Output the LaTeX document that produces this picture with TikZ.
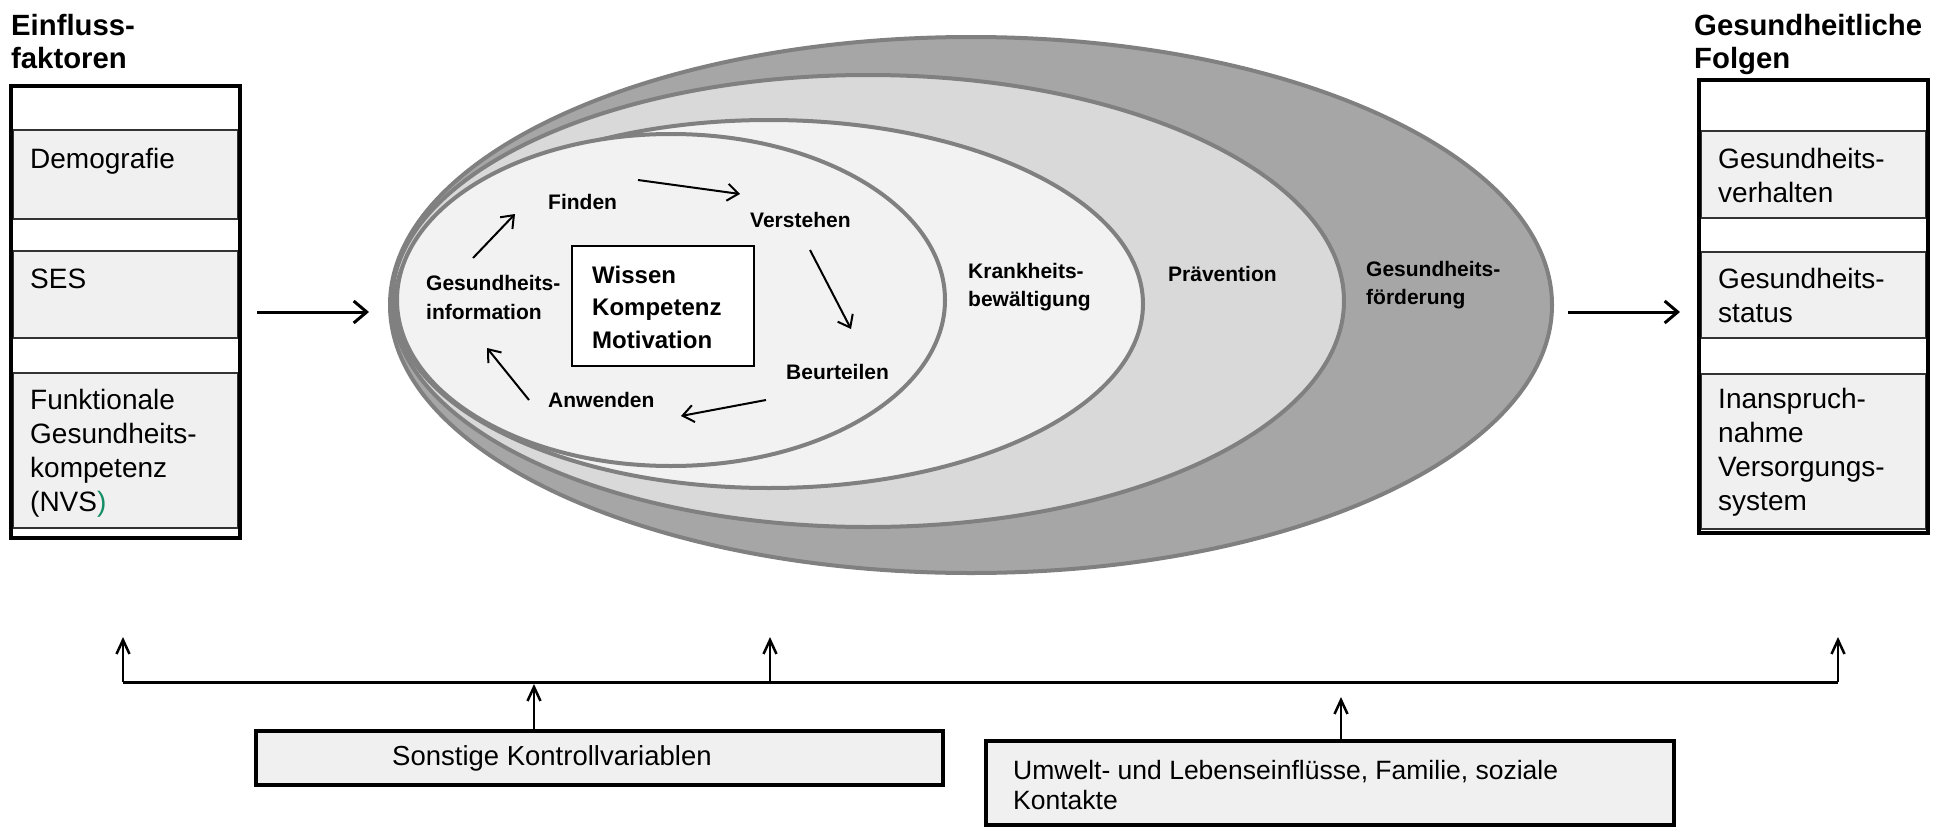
\documentclass[tikz,border=0pt]{standalone}
\usepackage{fontspec}
\setmainfont{Liberation Sans}
\usetikzlibrary{arrows.meta,shapes.geometric}
\definecolor{rowgrey}{HTML}{F0F0F0}
\definecolor{elline}{HTML}{808080}
\definecolor{elA}{HTML}{A6A6A6}
\definecolor{elB}{HTML}{D9D9D9}
\definecolor{elC}{HTML}{F2F2F2}
\definecolor{nvsgreen}{RGB}{20,140,100}
\begin{document}
\begin{tikzpicture}[x=1pt,y=-1pt,
  titletxt/.style={anchor=base west,inner sep=0pt,font=\fontsize{29.3}{34}\selectfont\bfseries},
  bodytxt/.style={anchor=base west,inner sep=0pt,font=\fontsize{28}{34}\selectfont},
  eltxt/.style={anchor=base west,inner sep=0pt,font=\fontsize{21}{28}\selectfont\bfseries},
  boxtxt/.style={anchor=base west,inner sep=0pt,font=\fontsize{24}{32}\selectfont\bfseries},
  bottxt/.style={anchor=base west,inner sep=0pt,font=\fontsize{26.5}{30}\selectfont},
  rowbox/.style={fill=rowgrey,draw=black!80,line width=1.5pt},
  framebox/.style={draw=black,line width=4pt},
  ellbox/.style={ellipse,draw=elline,line width=4pt,inner sep=0pt},
  bigarrow/.style={line width=3pt,-{Straight Barb[length=13pt,width=22pt,line width=3pt]}},
  cycarrow/.style={line width=2pt,-{Straight Barb[length=11pt,width=17pt,line width=2pt]}},
  uparrow/.style={line width=2.5pt,-{Straight Barb[length=14pt,width=13pt,line width=2.5pt]}}
]
\useasboundingbox (0,0) rectangle (1936,827);

% ---------- left column ----------
\node[titletxt] (tl1) at (11,35) {Einfluss-};
\node[titletxt] (tl2) at (11,68) {faktoren};
\fill[white] (11,86) rectangle (240,538);
\draw[rowbox] (13,130) rectangle (238,219);
\draw[rowbox] (13,251) rectangle (238,338);
\draw[rowbox] (13,373) rectangle (238,528);
\draw[framebox] (11,86) rectangle (240,538);
\node[bodytxt] (ld) at (30,168) {Demografie};
\node[bodytxt] (ls) at (30,288) {SES};
\node[bodytxt] (lf1) at (30,409) {Funktionale};
\node[bodytxt] (lf2) at (30,443) {Gesundheits-};
\node[bodytxt] (lf3) at (30,477) {kompetenz};
\node[bodytxt] (lf4) at (30,511) {(NVS\textcolor{nvsgreen}{)}};

% ---------- right column ----------
\node[titletxt] (tr1) at (1694,35) {Gesundheitliche};
\node[titletxt] (tr2) at (1694,68) {Folgen};
\fill[white] (1699,80) rectangle (1928,533);
\draw[rowbox] (1701,131) rectangle (1926,218);
\draw[rowbox] (1701,252) rectangle (1926,338);
\draw[rowbox] (1701,374) rectangle (1926,529);
\draw[framebox] (1699,80) rectangle (1928,533);
\node[bodytxt] (rv1) at (1718,168) {Gesundheits-};
\node[bodytxt] (rv2) at (1718,202) {verhalten};
\node[bodytxt] (rs1) at (1718,288) {Gesundheits-};
\node[bodytxt] (rs2) at (1718,322) {status};
\node[bodytxt] (ri1) at (1718,408) {Inanspruch-};
\node[bodytxt] (ri2) at (1718,442) {nahme};
\node[bodytxt] (ri3) at (1718,476) {Versorgungs-};
\node[bodytxt] (ri4) at (1718,510) {system};

% ---------- ellipses ----------
\node[ellbox,fill=elA,minimum width=1162pt,minimum height=536pt] (eA) at (971,305) {};
\node[ellbox,fill=elB,minimum width=952pt,minimum height=452pt] (eB) at (868,301) {};
\node[ellbox,fill=elC,minimum width=748pt,minimum height=368pt] (eC) at (769,304) {};
\node[ellbox,fill=elC,minimum width=548pt,minimum height=332pt] (eD) at (671,300) {};

\node[eltxt] (gf1) at (1366,276) {Gesundheits-};
\node[eltxt] (gf2) at (1366,304) {förderung};
\node[eltxt] (pv) at (1168,281) {Prävention};
\node[eltxt] (kb1) at (968,278) {Krankheits-};
\node[eltxt] (kb2) at (968,306) {bewältigung};

\node[eltxt] (fi) at (548,209) {Finden};
\node[eltxt] (ve) at (750,227) {Verstehen};
\node[eltxt] (be) at (786,379) {Beurteilen};
\node[eltxt] (an) at (548,407) {Anwenden};
\node[eltxt] (gi1) at (426,290) {Gesundheits-};
\node[eltxt] (gi2) at (426,319) {information};

\draw[black,line width=2pt,fill=white] (572,246) rectangle (754,366);
\node[boxtxt] (w1) at (592,283) {Wissen};
\node[boxtxt] (w2) at (592,315) {Kompetenz};
\node[boxtxt] (w3) at (592,348) {Motivation};

% cycle arrows
\coordinate (c1a) at (473,258); \coordinate (c1b) at (515,214);
\coordinate (c2a) at (638,180); \coordinate (c2b) at (740,194);
\coordinate (c3a) at (810,250); \coordinate (c3b) at (851,329);
\coordinate (c4a) at (766,400); \coordinate (c4b) at (681,416);
\coordinate (c5a) at (529,400); \coordinate (c5b) at (487,348);
\draw[cycarrow] (c1a) -- (c1b);
\draw[cycarrow] (c2a) -- (c2b);
\draw[cycarrow] (c3a) -- (c3b);
\draw[cycarrow] (c4a) -- (c4b);
\draw[cycarrow] (c5a) -- (c5b);

% main arrows
\coordinate (ma1) at (257,312); \coordinate (ma2) at (369,312);
\coordinate (mb1) at (1568,312); \coordinate (mb2) at (1680,312);
\draw[bigarrow] (ma1) -- (ma2);
\draw[bigarrow] (mb1) -- (mb2);

% ---------- bottom ----------
\coordinate (hl) at (123,682); \coordinate (hr) at (1838,682);
\coordinate (hm) at (770,682); \coordinate (hs) at (534,682);
\draw[line width=3pt] (hl) -- (hr);
\coordinate (tl) at (123,637); \coordinate (tm) at (770,637); \coordinate (tr) at (1838,637);
\draw[uparrow] (hl) -- (tl);
\draw[uparrow] (hm) -- (tm);
\draw[uparrow] (hr) -- (tr);

\draw[framebox,fill=rowgrey] (256,731) rectangle (943,785);
\node[bottxt,font=\fontsize{27.5}{30}\selectfont] (sk) at (392,765) {Sonstige Kontrollvariablen};
\coordinate (sktop) at (534,729);
\draw[uparrow] (sktop) -- (534,684);

\draw[framebox,fill=rowgrey] (986,741) rectangle (1674,825);
\node[bottxt] (ul1) at (1013,779) {Umwelt- und Lebenseinflüsse, Familie, soziale};
\node[bottxt] (ul2) at (1013,809) {Kontakte};
\coordinate (ultop) at (1341,739); \coordinate (ultip) at (1341,697);
\draw[uparrow] (ultop) -- (ultip);
\end{tikzpicture}
\end{document}
